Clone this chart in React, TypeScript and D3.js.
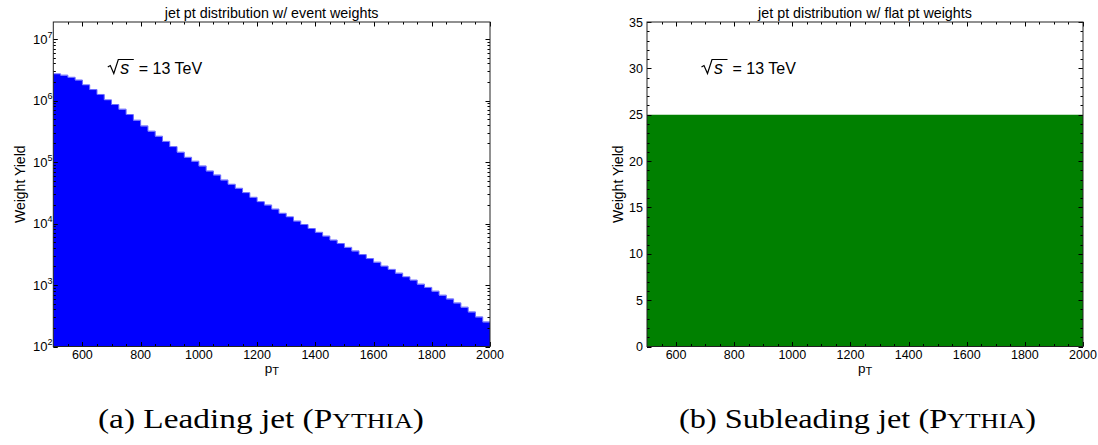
import React from 'react';
import * as d3 from 'd3';

// ---- data ----
const leadingCounts = [
  2.69e6, 2.56e6, 2.36e6, 2.13e6, 1.78e6, 1.49e6, 1.24e6, 1.015e6, 8.51e5, 7.16e5,
  5.85e5, 4.74e5, 3.83e5, 3.14e5, 2.6e5, 2.14e5, 1.76e5, 1.43e5, 1.18e5, 1.02e5,
  8.54e4, 7.08e4, 6.1e4, 5.05e4, 4.3e4, 3.7e4, 3.14e4, 2.64e4, 2.24e4, 1.98e4,
  1.7e4, 1.45e4, 1.27e4, 1.086e4, 9520, 8200, 7110, 6190, 5330, 4670,
  4050, 3550, 3090, 2660, 2330, 2010, 1775, 1545, 1345, 1190,
  1023, 904, 787, 677, 589, 507, 432, 362, 300, 249,
];
const subleadingCounts = [
  25, 25, 25, 25, 25, 25, 25, 25, 25, 25,
  25, 25, 25, 25, 25, 25, 25, 25, 25, 25,
  25, 25, 25, 25, 25, 25, 25, 25, 25, 25,
  25, 25, 25, 25, 25, 25, 25, 25, 25, 25,
  25, 25, 25, 25, 25, 25, 25, 25, 25, 25,
  25, 25, 25, 25, 25, 25, 25, 25, 25, 25,
];
const ptDomain = [500, 2000];
const binWidth = 25;
const xMajorTicks = [600, 800, 1000, 1200, 1400, 1600, 1800, 2000];
const xTickLabels = ['600', '800', '1000', '1200', '1400', '1600', '1800', '2000'];
const logExponents = [2, 3, 4, 5, 6, 7];
const logDomain = [100, 1.89e7];
const linDomain = [0, 35];
const linTicks = [0, 5, 10, 15, 20, 25, 30, 35];
const linTickLabels = ['0', '5', '10', '15', '20', '25', '30', '35'];
const titles = ['jet pt distribution w/ event weights', 'jet pt distribution w/ flat pt weights'];
const yTitle = 'Weight Yield';
const energyLabel = '= 13 TeV';
const captionsA = ['(a) Leading jet (P', 'YTHIA', ')'];
const captionsB = ['(b) Subleading jet (P', 'YTHIA', ')'];

const SANS = "'Liberation Sans', Arial, Helvetica, sans-serif";
const SERIF = "'Liberation Serif', 'Times New Roman', serif";
const TOP = 22;
const BOTTOM = 346.5;

type PanelProps = {
  x0: number;
  x1: number;
  log: boolean;
  counts: number[];
  color: string;
  edgeColor: string;
  title: string;
  yTitleX: number;
};

function Panel({ x0, x1, log, counts, color, edgeColor, title, yTitleX }: PanelProps) {
  const x = d3.scaleLinear().domain(ptDomain).range([x0, x1]);
  const y: any = log
    ? d3.scaleLog().domain(logDomain).range([BOTTOM, TOP])
    : d3.scaleLinear().domain(linDomain).range([BOTTOM, TOP]);

  const pts: [number, number][] = counts.map((c, i) => [ptDomain[0] + i * binWidth, c]);
  pts.push([ptDomain[0] + counts.length * binWidth, counts[counts.length - 1]]);
  const area = d3
    .area<[number, number]>()
    .x((d) => x(d[0]))
    .y0(BOTTOM)
    .y1((d) => y(d[1]))
    .curve(d3.curveStepAfter);
  const line = d3
    .line<[number, number]>()
    .x((d) => x(d[0]))
    .y((d) => y(d[1]) - 0.3)
    .curve(d3.curveStepAfter);

  const MAJ = 4.5;
  const MIN = 2.5;
  const ticks: JSX.Element[] = [];
  const xMinor = d3.range(550, 2000, 50).filter((v) => !xMajorTicks.includes(v));
  xMajorTicks.forEach((v) => {
    const px = Math.round(x(v)) + 0.5;
    ticks.push(<line key={'xb' + v} x1={px} x2={px} y1={BOTTOM} y2={BOTTOM - MAJ} />);
    ticks.push(<line key={'xt' + v} x1={px} x2={px} y1={TOP} y2={TOP + MAJ} />);
  });
  xMinor.forEach((v) => {
    const px = Math.round(x(v)) + 0.5;
    ticks.push(<line key={'xbm' + v} x1={px} x2={px} y1={BOTTOM} y2={BOTTOM - MIN} />);
    ticks.push(<line key={'xtm' + v} x1={px} x2={px} y1={TOP} y2={TOP + MIN} />);
  });
  const yMaj: number[] = log ? logExponents.map((e) => Math.pow(10, e)) : linTicks;
  const yMin: number[] = [];
  if (log) {
    logExponents.forEach((e) => {
      for (let k = 2; k <= 9; k++) {
        const v = k * Math.pow(10, e);
        if (v <= logDomain[1]) yMin.push(v);
      }
    });
  } else {
    d3.range(1, 35).forEach((v) => {
      if (v % 5 !== 0) yMin.push(v);
    });
  }
  yMaj.forEach((v, i) => {
    const py = Math.round(y(v)) + 0.5;
    ticks.push(<line key={'yl' + i} x1={x0} x2={x0 + MAJ} y1={py} y2={py} />);
    ticks.push(<line key={'yr' + i} x1={x1} x2={x1 - MAJ} y1={py} y2={py} />);
  });
  yMin.forEach((v, i) => {
    const py = Math.round(y(v)) + 0.5;
    ticks.push(<line key={'ylm' + i} x1={x0} x2={x0 + MIN} y1={py} y2={py} />);
    ticks.push(<line key={'yrm' + i} x1={x1} x2={x1 - MIN} y1={py} y2={py} />);
  });

  const cx = (x0 + x1) / 2;
  const sx = x0 + 54.5;

  return (
    <g>
      <path d={area(pts) || ''} fill={color} />
      {edgeColor !== 'none' && <path d={line(pts) || ''} fill="none" stroke={edgeColor} strokeWidth={1} />}
      <g stroke="#000" strokeWidth={1}>{ticks}</g>
      <rect x={x0} y={TOP} width={x1 - x0} height={BOTTOM - TOP} fill="none" stroke="#222" strokeWidth={1} />
      <g fontFamily={SANS} fontSize={12.5} fill="#000">
        {xMajorTicks.map((v, i) => (
          <text key={'xl' + v} x={x(v)} y={358.5} textAnchor="middle">
            {xTickLabels[i]}
          </text>
        ))}
        {log
          ? logExponents.map((e) => (
              <text key={'yl' + e} x={x0 - 0.8} y={y(Math.pow(10, e)) + 4.8} textAnchor="end" fontSize={13}>
                <tspan>10</tspan>
                <tspan dy={-6} fontSize={9}>
                  {String(e)}
                </tspan>
              </text>
            ))
          : linTicks.map((v, i) => (
              <text key={'yl' + v} x={x0 - 4} y={y(v) + 4.5} textAnchor="end">
                {linTickLabels[i]}
              </text>
            ))}
      </g>
      <text x={cx} y={17.5} textAnchor="middle" fontFamily={SANS} fontSize={14.3} fill="#000">
        {title}
      </text>
      <text
        transform={`translate(${yTitleX},${(TOP + BOTTOM) / 2}) rotate(-90)`}
        textAnchor="middle"
        fontFamily={SANS}
        fontSize={14}
        fill="#000"
      >
        {yTitle}
      </text>
      <text x={cx - 7} y={373} fontFamily={SANS} fontSize={13.5} fill="#000">
        p
        <tspan dy={2} fontSize={11}>
          T
        </tspan>
      </text>
      <path
        d={`M${sx},${67} L${sx + 2.5},${65.5} L${sx + 6},${73.5} L${sx + 10.5},${59.5} L${sx + 26},${59.5}`}
        fill="none"
        stroke="#000"
        strokeWidth={1.2}
      />
      <text x={sx + 12.5} y={73.5} fontFamily={SANS} fontSize={18} fontStyle="italic" fill="#000">
        s
      </text>
      <text x={sx + 31} y={73.5} fontFamily={SANS} fontSize={16} fill="#000">
        {energyLabel}
      </text>
    </g>
  );
}

export default function App() {
  return (
    <svg
      width={1098}
      height={445}
      viewBox="0 0 1098 445"
      style={{ position: 'absolute', left: 0, top: 0, background: '#fff' }}
    >
      <rect x={0} y={0} width={1098} height={445} fill="#fff" />
      <Panel
        x0={53.3}
        x1={490}
        log={true}
        counts={leadingCounts}
        color="#0000ff"
        edgeColor="#6a6aff"
        title={titles[0]}
        yTitleX={25}
      />
      <Panel
        x0={647}
        x1={1083}
        log={false}
        counts={subleadingCounts}
        color="#008000"
        edgeColor="none"
        title={titles[1]}
        yTitleX={623}
      />
      <text x={98} y={428} fontFamily={SERIF} fontSize={27} fill="#000" textLength={326} lengthAdjust="spacingAndGlyphs">
        {captionsA[0]}
        <tspan fontSize={21}>{captionsA[1]}</tspan>
        {captionsA[2]}
      </text>
      <text x={679} y={428} fontFamily={SERIF} fontSize={27} fill="#000" textLength={357} lengthAdjust="spacingAndGlyphs">
        {captionsB[0]}
        <tspan fontSize={21}>{captionsB[1]}</tspan>
        {captionsB[2]}
      </text>
    </svg>
  );
}
